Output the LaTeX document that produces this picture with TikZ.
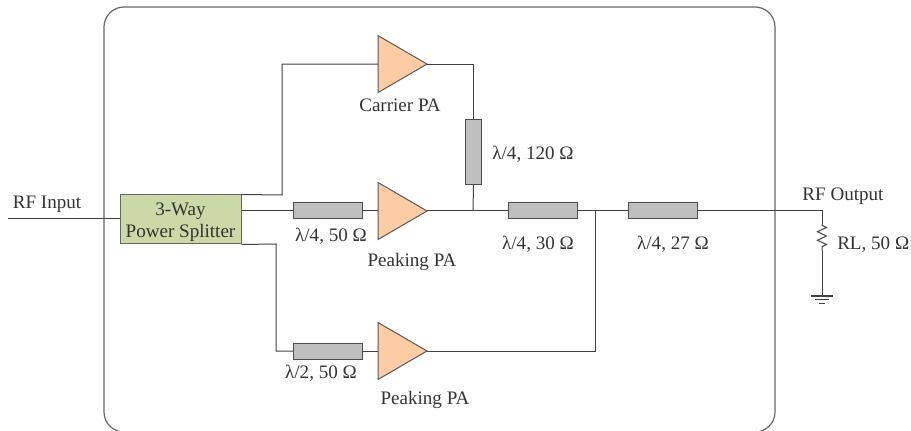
\documentclass[tikz,border=0pt]{standalone}
\usepackage{fontspec}
\setmainfont{Liberation Serif}
\usetikzlibrary{shapes.geometric, positioning, decorations.pathmorphing}
\definecolor{splitgreen}{RGB}{203,217,166}
\definecolor{paorange}{RGB}{252,204,164}

\begin{document}
\begin{tikzpicture}[
    x=0.75pt, y=-0.75pt,
    wire/.style={draw=black!75, line width=0.75pt},
    splitter/.style={rectangle, draw=black!60, fill=splitgreen, line width=0.75pt, minimum width=90.75pt, minimum height=36.75pt, inner sep=0pt, align=center, font=\fontsize{14.3}{16.5}\selectfont, text=black!80},
    pa/.style={isosceles triangle, isosceles triangle stretches, draw=black!65, fill=paorange, line width=0.75pt, minimum width=42.75pt, minimum height=36.75pt, inner sep=0pt, outer sep=0pt},
    tline/.style={rectangle, draw=black!70, fill=black!25, line width=0.75pt, minimum width=51.75pt, minimum height=12pt, inner sep=0pt, outer sep=0pt},
    lbl/.style={font=\fontsize{14.3}{16}\selectfont, text=black!80, inner sep=0pt}
]
\useasboundingbox (0,0) rectangle (911,431);

\draw [draw=black!60, line width=0.9pt, rounded corners=15pt] (104,7) rectangle (775,432);

\node (split) [splitter] at (180.5,219.5) {\rule{0pt}{13pt}3-Way\\Power Splitter};
\node (tlmid) [tline] at (327.5,211) {};
\node (pamid) [pa, right=12pt of tlmid] {};
\node (tlcom) [tline, right=60.75pt of pamid] {};
\node (tlout) [tline, right=38.25pt of tlcom] {};
\node (patop) [pa, above=81.75pt of pamid] {};
\node (tllow) [tline] at (327.5,351) {};
\node (palow) [pa, right=12pt of tllow] {};
\node (tlvert) [tline, minimum width=12pt, minimum height=48.75pt] at (473.5,152.5) {};

\coordinate (inp) at (8,219);
\coordinate (topbend) at (282,195);
\coordinate (lowbend) at (276,244);
\coordinate (comb) at (473,211);
\coordinate (join) at (595,211);
\coordinate (outp) at (822,211);
\coordinate (rtop) at (822,224);
\coordinate (rbot) at (822,251);
\coordinate (gnd) at (822,296);

\draw [wire] (inp) -- (split.west |- inp);
\draw [wire] (split.north east) -- (topbend) |- (patop.west);
\draw [wire] (split.east |- tlmid) -- (tlmid);
\draw [wire] (split.south east) -- (lowbend) |- (tllow);
\draw [wire] (tlmid) -- (pamid);
\draw [wire] (tllow) -- (palow);
\draw [wire] (patop.apex) -| (tlvert.north);
\draw [wire] (tlvert.south) -- (comb);
\draw [wire] (pamid.apex) -- (tlcom);
\draw [wire] (tlcom) -- (tlout);
\draw [wire] (palow.apex) -| (join);
\draw [wire] (tlout) -- (outp) -- (rtop);
\draw [wire, decorate, decoration={zigzag, amplitude=3.4pt, segment length=6.4pt, pre length=1pt, post length=1pt}] (rtop) -- (rbot);
\draw [wire] (rbot) -- (gnd);
\draw [wire] (811,296) -- (833,296);
\draw [wire] (815,299.5) -- (829,299.5);
\draw [wire] (819,303) -- (825,303);

\node (txtin) [lbl] at (47,204) {RF Input};
\node (txtout) [lbl] at (843,196) {RF Output};
\node (txtrl) [lbl, anchor=west] at (837,245) {RL, 50 Ω};
\node (txtc) [lbl] at (400,105) {Carrier PA};
\node (txtp1) [lbl] at (412,262) {Peaking PA};
\node (txtp2) [lbl] at (425,400) {Peaking PA};
\node (txtt1) [lbl] at (331,236) {λ/4, 50 Ω};
\node (txtt2) [lbl] at (321,373) {λ/2, 50 Ω};
\node (txtt3) [lbl] at (533,154) {λ/4, 120 Ω};
\node (txtt4) [lbl] at (538,244) {λ/4, 30 Ω};
\node (txtt5) [lbl] at (673,244) {λ/4, 27 Ω};

\end{tikzpicture}
\end{document}
